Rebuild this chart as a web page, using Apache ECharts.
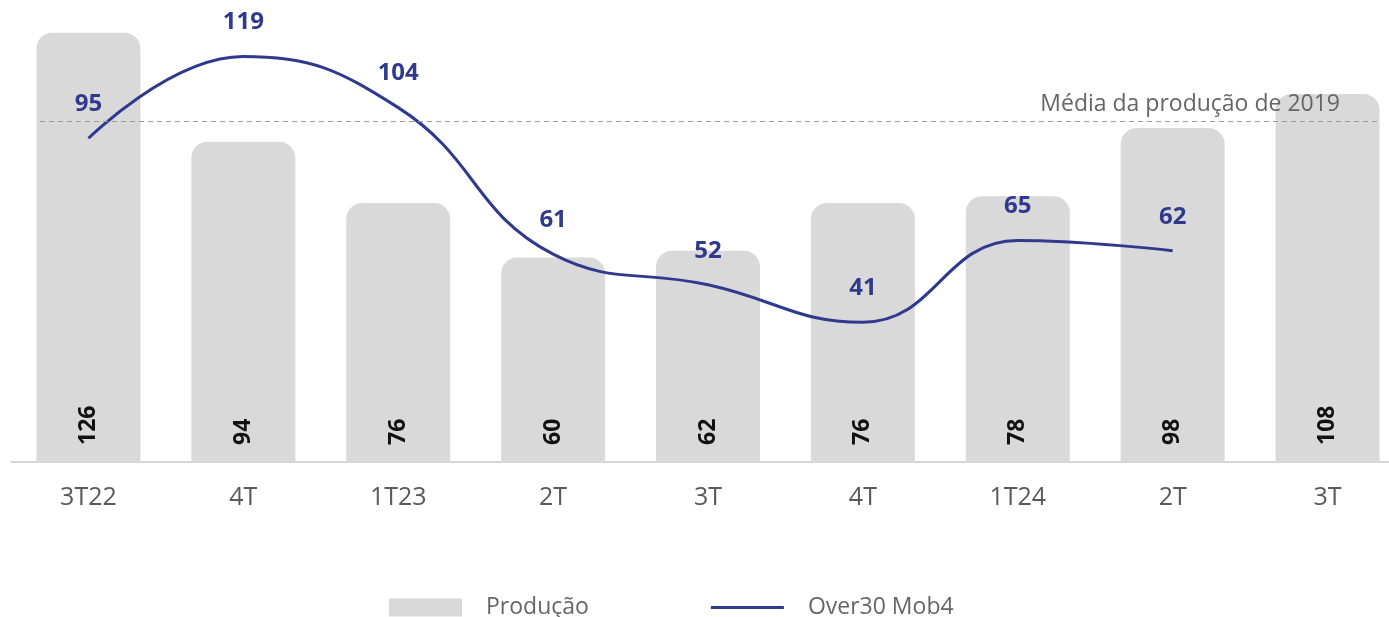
<!DOCTYPE html>
<html>
<head>
<meta charset="utf-8">
<script src="https://cdn.jsdelivr.net/npm/echarts@6/dist/echarts.min.js"></script>
<style>
html,body{margin:0;padding:0;background:#fff;}
#c{width:1389px;height:617px;}
</style>
</head>
<body>
<div id="c"></div>
<script>
var categories = ['3T22','4T','1T23','2T','3T','4T','1T24','2T','3T'];
var producao = [126, 94, 76, 60, 62, 76, 78, 98, 108];
var over30 = [95, 119, 104, 61, 52, 41, 65, 62, null];
var mediaProducao2019 = 100;

var FONT = '"Open Sans", sans-serif';
var NAVY = '#2f3a8f';

var chart = echarts.init(document.getElementById('c'));
chart.setOption({
  animation: false,
  backgroundColor: '#ffffff',
  grid: { left: 11, width: 1394, top: 2, bottom: 155, containLabel: false, outerBoundsMode: 'none' },
  legend: {
    left: 384, top: 591,
    itemWidth: 73, itemHeight: 18, itemGap: 122,
    symbolKeepAspect: true,
    data: [
      { name: 'Produção', icon: 'rect', itemStyle: { borderRadius: 0 } },
      { name: 'Over30 Mob4', icon: 'path://M0,0L73,0L73,3L0,3Z' }
    ],
    textStyle: { fontFamily: FONT, fontSize: 23, color: '#666', padding: [0,0,0,19] }
  },
  xAxis: {
    type: 'category',
    data: categories,
    axisLine: { show: true, lineStyle: { color: '#d6d6d6', width: 2 } },
    axisTick: { show: false },
    axisLabel: { fontFamily: FONT, fontSize: 25, color: '#595959', margin: 23 }
  },
  yAxis: {
    type: 'value', min: 0, max: 135,
    show: false, splitLine: { show: false }
  },
  series: [
    {
      name: 'Produção', type: 'bar',
      data: producao,
      barWidth: 104,
      itemStyle: { color: '#d9d9d9', borderRadius: [16,16,0,0] },
      label: {
        show: true, position: 'insideBottom', rotate: 90,
        align: 'left', verticalAlign: 'middle', distance: 17,
        fontFamily: FONT, fontWeight: 'bold', fontSize: 23, color: '#111'
      },
      markLine: {
        silent: true, symbol: 'none',
        lineStyle: { color: '#9a9a9a', type: [5,4], width: 1.2 },
        label: {
          show: true, position: 'insideEndTop',
          formatter: 'Média da produção de 2019',
          fontFamily: FONT, fontSize: 23, color: '#666', distance: [38, 5]
        },
        data: [[{ x: 40, yAxis: mediaProducao2019 }, { x: 1378, yAxis: mediaProducao2019 }]]
      },
      z: 1
    },
    {
      name: 'Over30 Mob4', type: 'line',
      data: over30,
      smooth: 0.45,
      symbol: 'none',
      lineStyle: { color: NAVY, width: 3 },
      itemStyle: { color: NAVY },
      z: 3
    },
    {
      name: 'over30labels', type: 'scatter',
      data: over30,
      symbolSize: 0,
      silent: true,
      itemStyle: { color: NAVY, opacity: 1 },
      label: {
        show: true, position: 'top', distance: 22,
        fontFamily: FONT, fontWeight: 'bold', fontSize: 24, color: NAVY, opacity: 1
      },
      z: 4
    }
  ]
});
</script>
</body>
</html>
